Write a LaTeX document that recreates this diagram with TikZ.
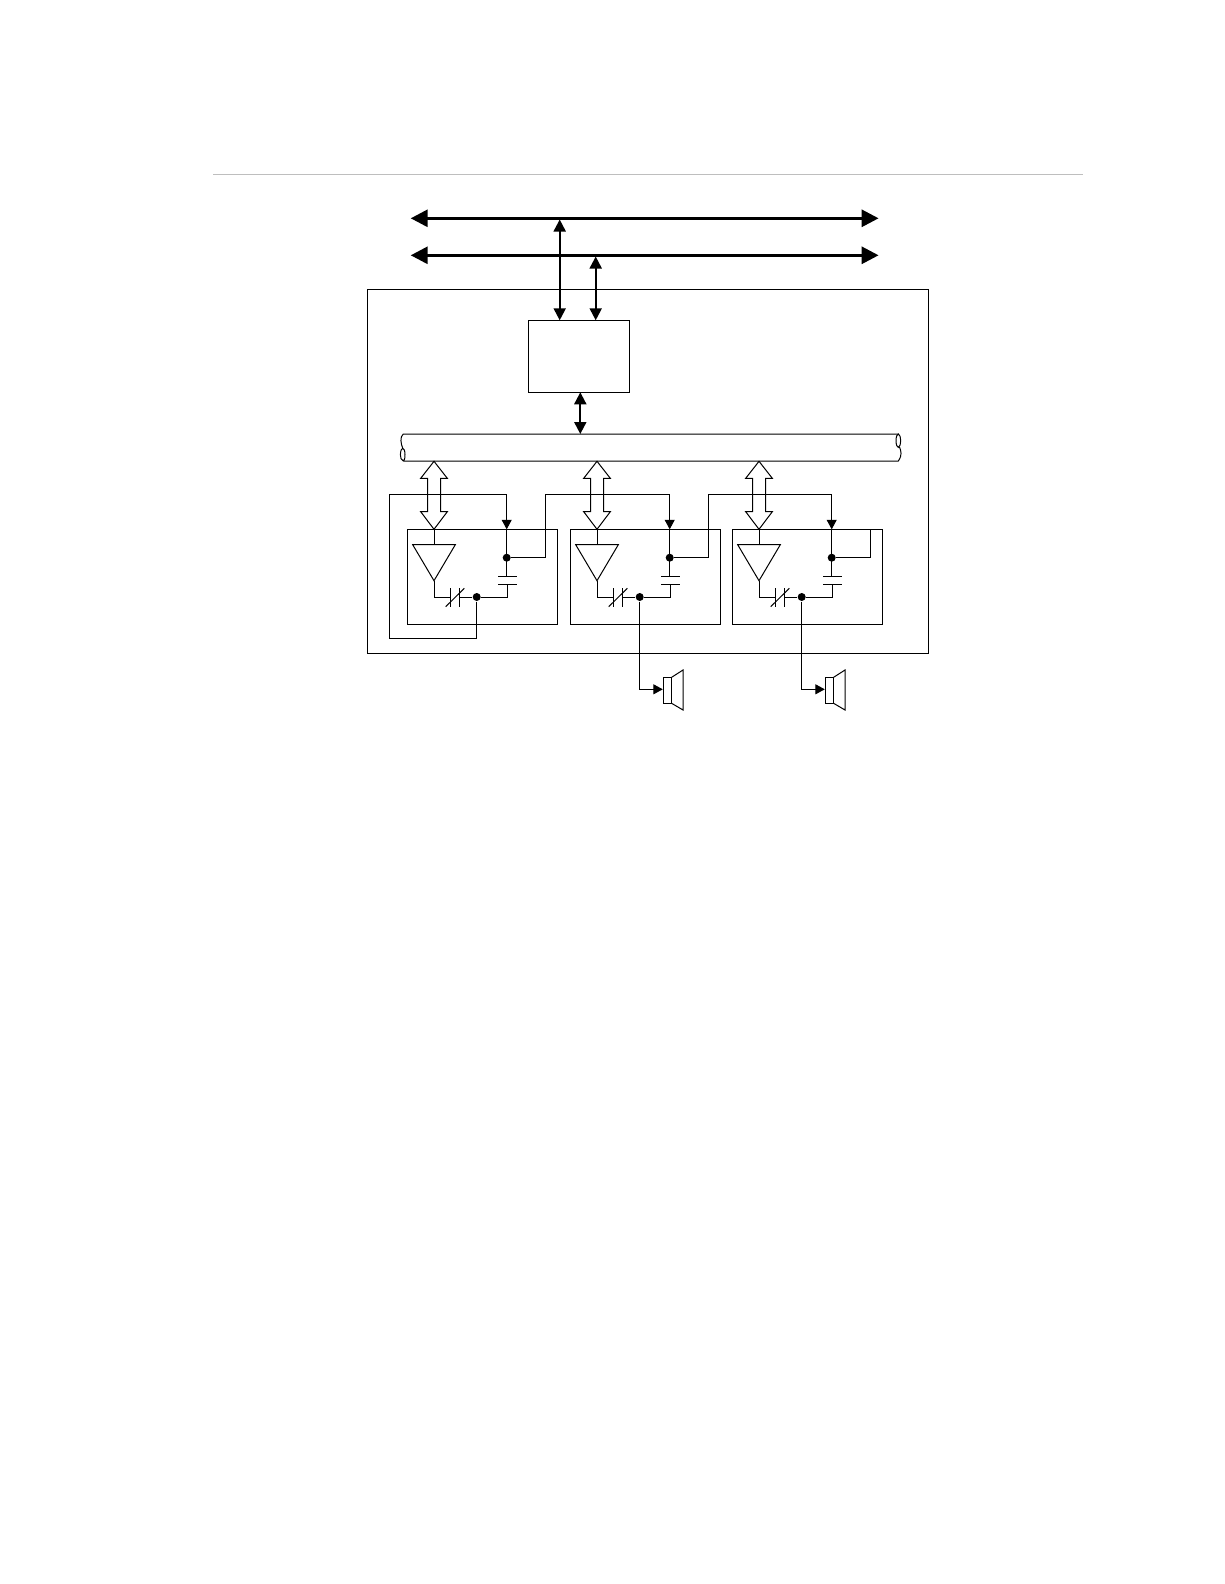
\documentclass[tikz,border=0pt]{standalone}
\usetikzlibrary{arrows.meta}
\definecolor{crule}{RGB}{190,190,190}
\begin{document}
\begin{tikzpicture}[x=1pt,y=-1pt,line width=1pt,
        busline/.style={line width=3pt,{Triangle[length=17pt,width=17pt]}-{Triangle[length=17pt,width=17pt]}},
        link/.style={line width=2pt,{Triangle[length=12pt,width=12pt]}-{Triangle[length=12pt,width=12pt]}},
        feed/.style={-{Triangle[length=9.5pt,width=10pt]}},
        box/.style={draw=black,rectangle,inner sep=0pt,outer sep=0pt,anchor=north west},
        modbox/.style={box,minimum width=150pt,minimum height=94.7pt},
        spkbox/.style={box,minimum width=8.3pt,minimum height=26pt},
        dot/.style={circle,fill=black,inner sep=0pt,minimum size=8pt}]
      \useasboundingbox (0,0) rectangle (1224,1584);
      \draw[crule] (213,174.3) -- (1083,174.3);
      \coordinate (busa-l) at (410.7,218.3);
      \coordinate (busa-r) at (878.6,218.3);
      \coordinate (busb-l) at (410.7,255.3);
      \coordinate (busb-r) at (878.6,255.3);
      \draw[busline] (busa-l) -- (busa-r);
      \draw[busline] (busb-l) -- (busb-r);
      \node[box,minimum width=561.4pt,minimum height=364.3pt] (chip) at (367.3,289) {};
      \node[box,minimum width=101pt,minimum height=72pt] (ctrl) at (528.3,320.3) {};
      \coordinate (taba) at (559.7,219.5);
      \coordinate (tabb) at (595.7,256.5);
      \draw[link] (taba) -- (taba |- ctrl.north);
      \draw[link] (tabb) -- (tabb |- ctrl.north);
      \coordinate (pipetop) at (580.3,434);
      \draw[link] (pipetop |- ctrl.south) -- (pipetop);
      \draw (403.3,461) -- (898.3,461) .. controls (902.5,455) and (901,451) .. (899.5,447)
        (898.3,434) -- (403.3,434) .. controls (399.5,437) and (401,444) .. (402.7,448.2)
        (403.3,461) .. controls (401,460) and (400.5,458) .. (400.4,454.7)
        .. controls (400.5,451) and (401.5,448.2) .. (402.7,448.2)
        .. controls (404,448.2) and (405,451) .. (405,454.7)
        .. controls (405,458) and (404.5,461) .. (403.3,461);
      \draw (898.3,440.7) ellipse (2.3pt and 6.7pt);
      \foreach \i/\dx in {1/0,2/163,3/325} {
        \begin{scope}[xshift=\dx pt]
          \node[modbox] (mod\i) at (407.3,529.3) {};
          \node[dot] (top\i) at (506.7,557.7) {};
          \node[dot] (out\i) at (476.7,597) {};
          \coordinate (in\i) at (506.7,529.3);
          \coordinate (apex\i) at (434,580.7);
          \coordinate (plate\i) at (507.3,584.3);
          \draw (434,461.3) -- (447.3,478.3) -- (440.5,478.3) -- (440.5,511.7) -- (447.3,511.7)
            -- (434,529.3) -- (420.7,511.7) -- (427.5,511.7) -- (427.5,478.3) -- (420.7,478.3) -- cycle;
          \draw (434,529.3) -- (434,544.7);
          \draw (412.7,544.7) -- (455.3,544.7) -- (apex\i) -- cycle;
          \draw (apex\i) |- (450,597);
          \draw (450,588.3) -- (450,606.7) (459.3,588.3) -- (459.3,606.7);
          \draw (445.7,606.7) -- (464.3,588.3);
          \draw (459.3,597) -- (out\i);
          \draw (out\i) -| (plate\i);
          \draw (498.3,584.3) -- (516.7,584.3) (498.3,576.3) -- (516.7,576.3);
          \draw (in\i) -- (506.7,576.3);
        \end{scope}
      }
      \coordinate (backa) at (389.3,638.3);
      \coordinate (backb) at (389.3,494.3);
      \coordinate (risea) at (545.7,494.3);
      \coordinate (riseb) at (708.3,494.3);
      \coordinate (stub) at (870.7,529.3);
      \draw[feed] (out1) |- (backa) -- (backb) -| (in1);
      \draw[feed] (top1) -| (risea) -| (in2);
      \draw[feed] (top2) -| (riseb) -| (in3);
      \draw (top3) -| (stub);
      \foreach \i/\dx in {2/0,3/162} {
        \begin{scope}[xshift=\dx pt]
          \node[spkbox] (spk\i) at (663.3,677.3) {};
          \coordinate (spkin\i) at (662.8,689.3);
          \draw (spk\i.north east) -- (683,670) -- (683,710) -- (spk\i.south east);
        \end{scope}
        \draw[feed] (out\i) |- (spkin\i);
      }
    \end{tikzpicture}
\end{document}
